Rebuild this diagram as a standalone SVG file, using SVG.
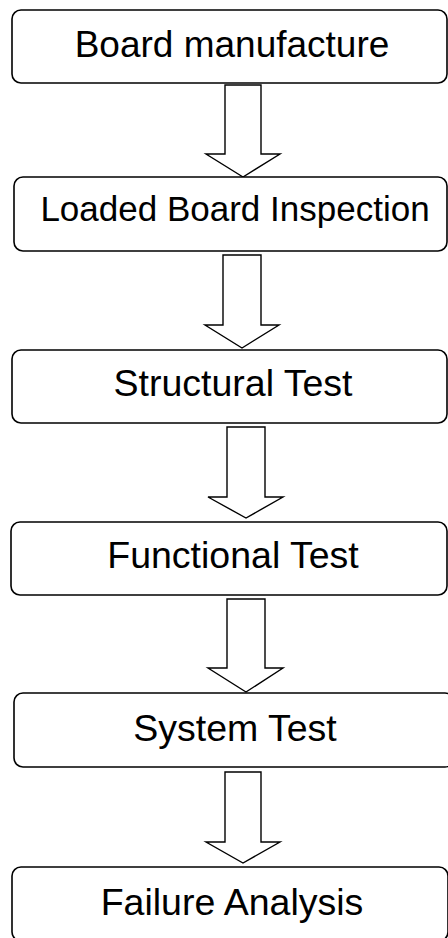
<svg xmlns="http://www.w3.org/2000/svg" width="448" height="938" viewBox="0 0 448 938">
<style>
.box{fill:#fff;stroke:#000;stroke-width:1.6}
.arr{fill:#fff;stroke:#000;stroke-width:1.4;stroke-linejoin:miter}
.lbl{font-family:"Liberation Sans",Arial,sans-serif;font-size:37.5px;fill:#000;text-anchor:middle}
</style>
<rect width="448" height="938" fill="#fff"/>
<g id="connectors">
<polygon class="arr" points="225,85 261,85 261,154 280,154 243,177 206,154 225,154"/>
<polygon class="arr" points="223,255 261,255 261,325 279,325 242,348 205,325 223,325"/>
<polygon class="arr" points="227,427 265,427 265,497 283,497 246,518 208,497 227,497"/>
<polygon class="arr" points="227,599 265,599 265,668 283,668 246,692 208,668 227,668"/>
<polygon class="arr" points="225,772 261,772 261,842 280,842 243,863 206,842 225,842"/>
</g>
<g id="n1"><rect class="box" x="12" y="10" width="435" height="73" rx="9"/><text class="lbl" x="232" y="57" style="font-size:37px">Board manufacture</text></g>
<g id="n2"><rect class="box" x="14" y="177" width="433" height="74" rx="9"/><text class="lbl" x="235" y="221" style="font-size:35px">Loaded Board Inspection</text></g>
<g id="n3"><rect class="box" x="12" y="350" width="435" height="73" rx="9"/><text class="lbl" x="233" y="396">Structural Test</text></g>
<g id="n4"><rect class="box" x="11" y="522" width="436" height="73" rx="9"/><text class="lbl" x="233" y="568">Functional Test</text></g>
<g id="n5"><rect class="box" x="14" y="693" width="440" height="74" rx="9"/><text class="lbl" x="235" y="741">System Test</text></g>
<g id="n6"><rect class="box" x="12" y="867" width="436" height="74" rx="9"/><text class="lbl" x="232" y="915">Failure Analysis</text></g>
</svg>
